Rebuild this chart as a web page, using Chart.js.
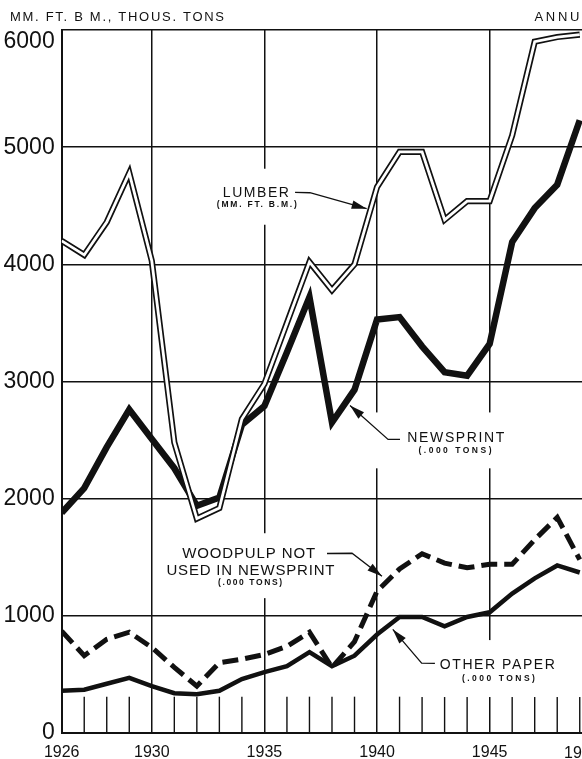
<!DOCTYPE html>
<html>
<head>
<meta charset="utf-8">
<script src="https://cdn.jsdelivr.net/npm/chart.js@4.4.0/dist/chart.umd.min.js"></script>
<style>
  html, body { margin: 0; padding: 0; background: #fff; }
  canvas { display: block; }
</style>
</head>
<body>
<canvas id="chart" width="582" height="759"></canvas>
<script>
// values, 1926-1949 (sheet is cut off on the right)
const years = [1926, 1927, 1928, 1929, 1930, 1931, 1932, 1933, 1934, 1935, 1936, 1937,
               1938, 1939, 1940, 1941, 1942, 1943, 1944, 1945, 1946, 1947, 1948, 1949];
const lumber = [4200, 4080, 4360, 4780, 4030, 2480, 1830, 1920, 2680, 2980, 3500, 4020,
                3780, 4000, 4660, 4960, 4960, 4380, 4540, 4540, 5100, 5900, 5940, 5960];
const newsprint = [1880, 2090, 2440, 2760, 2510, 2260, 1940, 2010, 2630, 2790, 3250, 3720,
                   2650, 2930, 3530, 3550, 3300, 3080, 3050, 3320, 4190, 4480, 4680, 5230];
const woodpulp = [870, 660, 800, 860, 730, 560, 400, 600, 630, 670, 740, 860,
                  560, 780, 1210, 1400, 1530, 1450, 1410, 1440, 1440, 1650, 1840, 1480];
const otherPaper = [360, 370, 420, 470, 400, 340, 330, 360, 460, 520, 570, 690,
                    570, 660, 840, 990, 990, 910, 990, 1030, 1190, 1320, 1430, 1370];
const yTicks = [0, 1000, 2000, 3000, 4000, 5000, 6000];
const xLabels = [1926, 1930, 1935, 1940, 1945];

const pageFont = "'Liberation Sans', Arial, sans-serif";
const toXY = arr => arr.map((v, i) => ({ x: years[i], y: v }));

// labels on the chart, positions given in (year, value)
const notes = [
  { box: [1933.9, 4338, 1936.6, 4816],
    lines: [['LUMBER', 1934.62, 4577, 66, 14, ''], ['(MM. FT. B.M.)', 1934.66, 4486, 80, 8.5, 'bold ']],
    leader: [[1936.36, 4614], [1937.02, 4611], [1939.54, 4475]] },
  { box: [1939.78, 2259, 1945.99, 2736],
    lines: [['NEWSPRINT', 1943.5, 2483, 97, 14, ''], ['(.000 TONS)', 1943.46, 2386, 73, 8.5, 'bold ']],
    leader: [[1941.02, 2506], [1940.49, 2506], [1938.8, 2795]] },
  { box: [1930.37, 1151, 1938.57, 1705],
    lines: [['WOODPULP NOT', 1934.3, 1492, 133, 15, ''], ['USED IN NEWSPRINT', 1934.38, 1347, 168, 15, ''],
            ['(.000 TONS)', 1934.36, 1261, 64, 8.5, 'bold ']],
    leader: [[1937.78, 1532], [1938.89, 1534], [1940.22, 1338]] },
  { box: [1941.7, 307, 1949.9, 793],
    lines: [['OTHER PAPER', 1945.34, 543, 115, 14, ''], ['(.000 TONS)', 1945.39, 446, 73, 8.5, 'bold ']],
    leader: [[1942.57, 594], [1941.98, 597], [1940.7, 884]] }
];

function fitText(ctx, text, left, baseline, width) {
  ctx.letterSpacing = '0px';
  const base = ctx.measureText(text).width;
  const gap = text.length > 1 ? (width - base) / (text.length - 1) : 0;
  ctx.letterSpacing = gap + 'px';
  ctx.textAlign = 'left';
  ctx.textBaseline = 'alphabetic';
  ctx.fillText(text, left, baseline);
  ctx.letterSpacing = '0px';
  return gap;
}

function arrow(ctx, pts) {
  ctx.beginPath();
  ctx.moveTo(pts[0][0], pts[0][1]);
  pts.slice(1).forEach(p => ctx.lineTo(p[0], p[1]));
  ctx.stroke();
  const a = pts[pts.length - 2], b = pts[pts.length - 1];
  const ang = Math.atan2(b[1] - a[1], b[0] - a[0]);
  const L = 15, H = 4.2;
  ctx.beginPath();
  ctx.moveTo(b[0], b[1]);
  ctx.lineTo(b[0] - L * Math.cos(ang) + H * Math.sin(ang), b[1] - L * Math.sin(ang) - H * Math.cos(ang));
  ctx.lineTo(b[0] - L * Math.cos(ang) - H * Math.sin(ang), b[1] - L * Math.sin(ang) + H * Math.cos(ang));
  ctx.closePath();
  ctx.fill();
}

const decorations = {
  id: 'decorations',
  beforeDatasetsDraw(chart) {
    const { ctx, scales: { x, y } } = chart;
    ctx.save();
    // short year ticks standing on the base line
    ctx.strokeStyle = '#111';
    ctx.lineWidth = 1.4;
    years.forEach(yr => {
      if (yr % 5 === 0 || yr === years[0]) return;
      const px = x.getPixelForValue(yr);
      ctx.beginPath();
      ctx.moveTo(px, y.getPixelForValue(0));
      ctx.lineTo(px, y.getPixelForValue(310));
      ctx.stroke();
    });
    // white patches behind the labels
    ctx.fillStyle = '#fff';
    notes.forEach(n => {
      const x0 = x.getPixelForValue(n.box[0]), x1 = x.getPixelForValue(n.box[2]);
      const y0 = y.getPixelForValue(n.box[3]), y1 = y.getPixelForValue(n.box[1]);
      ctx.fillRect(x0, y0, x1 - x0, y1 - y0);
    });
    ctx.restore();
  },
  afterDatasetsDraw(chart) {
    const { ctx, scales: { x, y } } = chart;
    ctx.save();
    ctx.fillStyle = '#111';
    ctx.strokeStyle = '#111';
    ctx.lineWidth = 1.3;
    notes.forEach(n => {
      n.lines.forEach(([t, cx, base, w, size, weight]) => {
        ctx.font = weight + size + 'px ' + pageFont;
        fitText(ctx, t, x.getPixelForValue(cx) - w / 2, y.getPixelForValue(base), w);
      });
      arrow(ctx, n.leader.map(p => [x.getPixelForValue(p[0]), y.getPixelForValue(p[1])]));
    });
    ctx.restore();
  },
  afterDraw(chart) {
    const { ctx, scales: { x } } = chart;
    ctx.save();
    ctx.fillStyle = '#111';
    ctx.font = '13px ' + pageFont;
    fitText(ctx, 'MM. FT. B M., THOUS. TONS', 10, 21, 214);
    // heading on the right runs off the sheet; only "ANNU" shows
    ctx.letterSpacing = '0px';
    const g = (47.5 - ctx.measureText('ANNU').width) / 4;
    ctx.letterSpacing = g + 'px';
    ctx.fillText('ANNUAL', 534.5, 21);
    ctx.letterSpacing = '0px';
    // 1950 label, mostly off the sheet
    ctx.font = '16px ' + pageFont;
    ctx.textAlign = 'left';
    ctx.fillText('1950', x.getPixelForValue(1948.3), 758);
    ctx.restore();
  }
};

new Chart(document.getElementById('chart'), {
  type: 'line',
  data: {
    datasets: [
      { data: toXY(lumber), borderColor: '#fff', borderWidth: 2.8, order: 0 },
      { data: toXY(lumber), borderColor: '#111', borderWidth: 6.2, order: 1 },
      { data: toXY(newsprint), borderColor: '#111', borderWidth: 6.5, order: 2 },
      { data: toXY(woodpulp), borderColor: '#111', borderWidth: 5, borderDash: [16, 7], order: 3 },
      { data: toXY(otherPaper), borderColor: '#111', borderWidth: 4.5, order: 4 }
    ]
  },
  options: {
    responsive: false,
    animation: false,
    devicePixelRatio: 1,
    layout: { padding: { top: 29.5, right: 0, left: 0, bottom: 0 } },
    elements: {
      point: { radius: 0 },
      line: { tension: 0, borderJoinStyle: 'miter', borderCapStyle: 'butt', fill: false }
    },
    plugins: { legend: { display: false }, tooltip: { enabled: false } },
    scales: {
      x: {
        type: 'linear',
        min: 1926,
        max: 1949.1,
        afterBuildTicks: s => { s.ticks = years.map(v => ({ value: v })); },
        afterFit: s => { s.height = 26; s.paddingRight = 0; },
        ticks: {
          autoSkip: false,
          maxRotation: 0,
          padding: 0,
          color: '#111',
          // tall line box pushes the year labels down to the sheet edge
          font: { family: pageFont, size: 16, lineHeight: 2.4375 },
          callback: v => xLabels.includes(v) ? String(v) : ''
        },
        grid: {
          drawTicks: false,
          lineWidth: 1.5,
          color: c => (c.tick && c.tick.value % 5 === 0) ? '#111' : 'rgba(0,0,0,0)'
        },
        border: { display: true, color: '#111', width: 2 }
      },
      y: {
        min: 0,
        max: 6000,
        afterBuildTicks: s => { s.ticks = yTicks.map(v => ({ value: v })); },
        afterFit: s => { s.width = 61.7; },
        ticks: {
          padding: 7,
          color: '#111',
          font: { family: pageFont, size: 23, lineHeight: 1 },
          callback: v => v === 6000 ? ['', '6000'] : String(v)
        },
        grid: { drawTicks: false, lineWidth: 1.5, color: '#111' },
        border: { display: true, color: '#111', width: 2 }
      }
    }
  },
  plugins: [decorations]
});
</script>
</body>
</html>
